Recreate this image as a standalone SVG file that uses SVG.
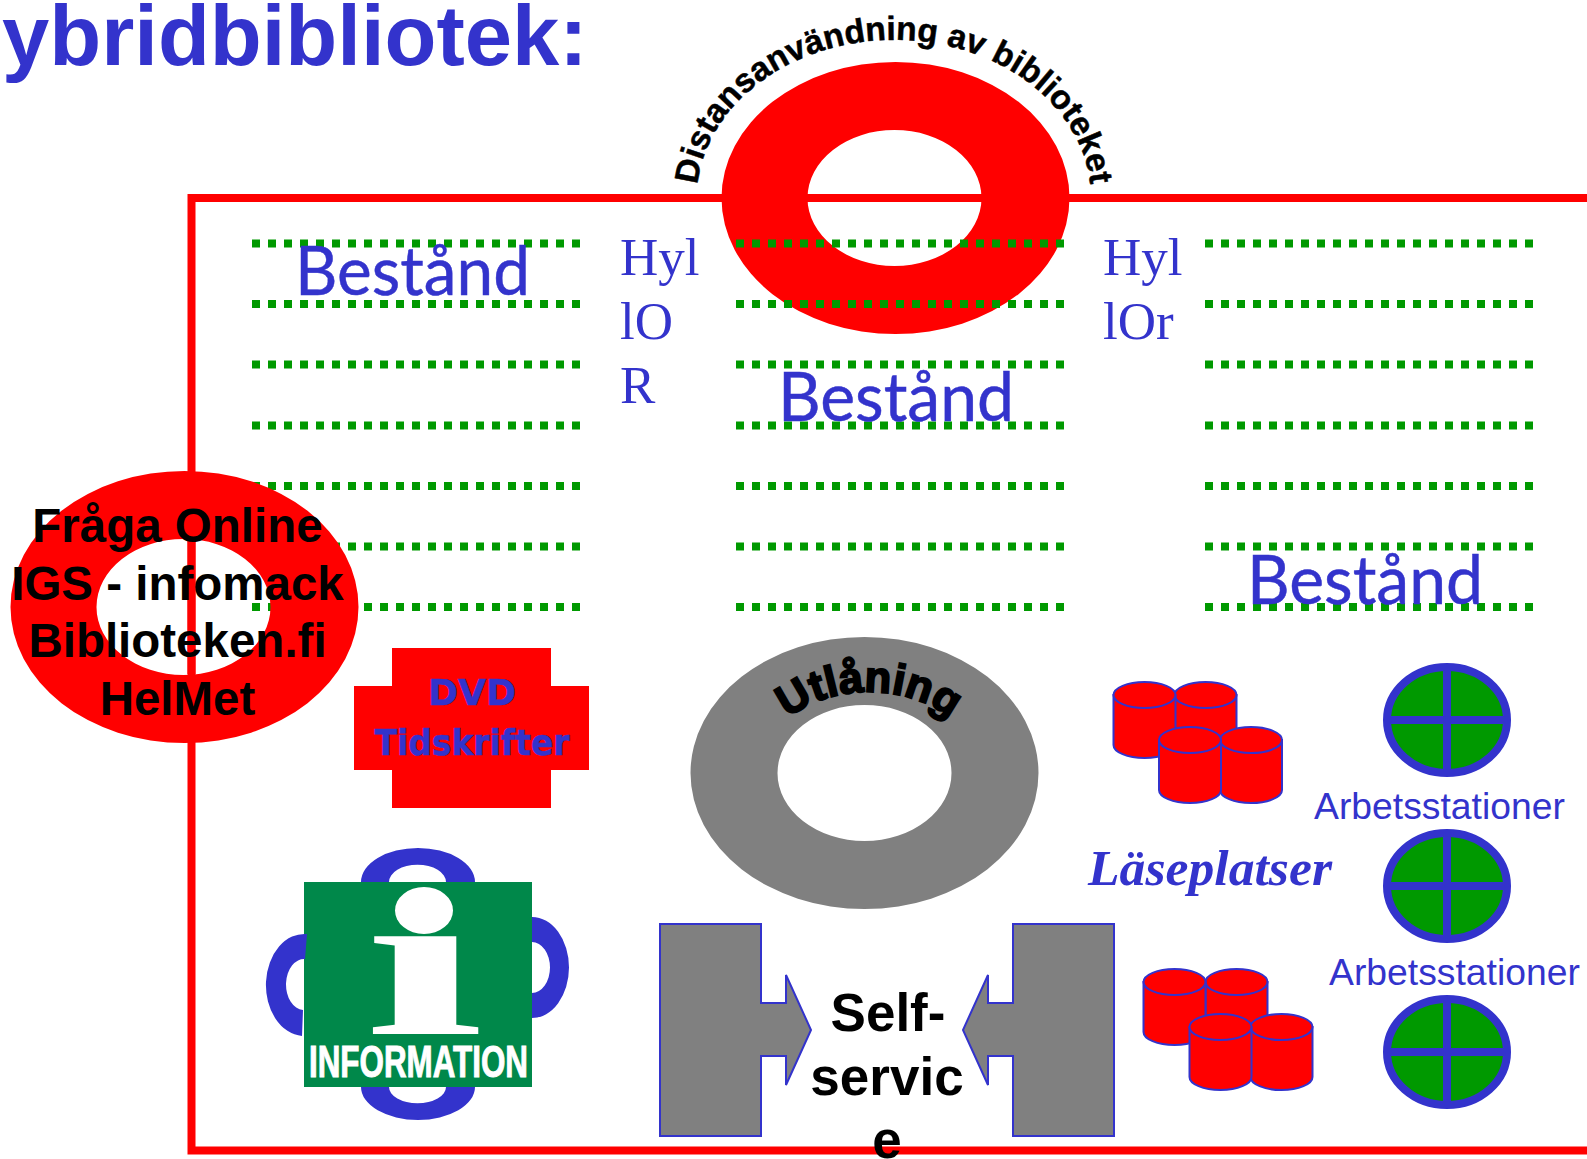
<svg xmlns="http://www.w3.org/2000/svg" xmlns:xlink="http://www.w3.org/1999/xlink" width="1587" height="1159" viewBox="0 0 1587 1159">
<style>
text{font-family:"Liberation Sans",Arial,sans-serif}
.blue{fill:#3333cc}
.black{fill:#000}
.bold{font-weight:bold}
.dots line{stroke:#009900;stroke-width:8;stroke-dasharray:8 8;fill:none}
.ring{fill-rule:evenodd}
.best{font-family:Lato,"Open Sans",sans-serif;font-size:68px;fill:#3333cc;stroke:#3333cc;stroke-width:0.5}
.serif{font-family:"Liberation Serif",serif;font-size:53px;fill:#3333cc}
.info{font-size:47.500px;font-weight:bold;fill:#000;text-anchor:middle}
.self{font-size:53px;font-weight:bold;fill:#000;text-anchor:middle}
.arb{font-size:37.300px;fill:#3333cc}
.cyl path,.cyl ellipse{fill:#ff0000;stroke:#3333cc;stroke-width:2}
.arrow{fill:#808080;stroke:#3333cc;stroke-width:2}
.ws ellipse{fill:#009900;stroke:#3333cc;stroke-width:8}
.ws path{fill:none;stroke:#3333cc;stroke-width:8}
</style>
<defs>
<g id="c" class="cyl"><path d="M0,13V63A31,13 0 0 0 62,63V13Z"/><ellipse cx="31" cy="13" rx="31" ry="13"/></g>
<g id="w" class="ws"><ellipse cx="0" cy="0" rx="60" ry="53"/><path d="M-60,0H60M0,-53V53"/></g>
<path id="arc1" d="M697,198A197,158 0 0 1 1091,198"/>
<path id="arc2" d="M759,773A110,81 0 0 1 979,773"/>
<clipPath id="stem"><rect x="304" y="936" width="228" height="110"/></clipPath>
</defs>

<g id="title"><text x="2" y="65" class="blue bold" font-size="85">ybridbibliotek:</text></g>

<g id="distans">
<path class="ring" fill="#ff0000" d="M721.500,198a174,136 0 1 0 348,0a174,136 0 1 0 -348,0ZM807.500,198a87,68 0 1 1 174,0a87,68 0 1 1 -174,0Z"/>
<text class="black bold" font-size="33.500" text-anchor="middle" stroke="#000" stroke-width="0.500"><textPath href="#arc1" startOffset="50%">Distansanvändning av biblioteket</textPath></text>
</g>

<g id="frame"><path d="M1587,198H191.500V1150.500H1587" fill="none" stroke="#ff0000" stroke-width="8"/></g>

<g id="shelves" class="dots">
<line x1="252" y1="243.500" x2="580" y2="243.500"/><line x1="252" y1="304" x2="580" y2="304"/><line x1="252" y1="364.500" x2="580" y2="364.500"/><line x1="252" y1="425.500" x2="580" y2="425.500"/><line x1="252" y1="486" x2="580" y2="486"/><line x1="252" y1="546.500" x2="580" y2="546.500"/><line x1="252" y1="607" x2="580" y2="607"/>
<line x1="736" y1="243.500" x2="1064" y2="243.500"/><line x1="736" y1="304" x2="1064" y2="304"/><line x1="736" y1="364.500" x2="1064" y2="364.500"/><line x1="736" y1="425.500" x2="1064" y2="425.500"/><line x1="736" y1="486" x2="1064" y2="486"/><line x1="736" y1="546.500" x2="1064" y2="546.500"/><line x1="736" y1="607" x2="1064" y2="607"/>
<line x1="1205" y1="243.500" x2="1533" y2="243.500"/><line x1="1205" y1="304" x2="1533" y2="304"/><line x1="1205" y1="364.500" x2="1533" y2="364.500"/><line x1="1205" y1="425.500" x2="1533" y2="425.500"/><line x1="1205" y1="486" x2="1533" y2="486"/><line x1="1205" y1="546.500" x2="1533" y2="546.500"/><line x1="1205" y1="607" x2="1533" y2="607"/>
</g>

<g id="bestand-1"><text class="best" x="295" y="295" textLength="235" lengthAdjust="spacingAndGlyphs">Bestånd</text></g>
<g id="bestand-2"><text class="best" x="778" y="421" textLength="236" lengthAdjust="spacingAndGlyphs">Bestånd</text></g>
<g id="bestand-3"><text class="best" x="1247" y="604" textLength="236" lengthAdjust="spacingAndGlyphs">Bestånd</text></g>

<g id="hylla-1"><text class="serif" x="620" y="275">Hyl</text><text class="serif" x="620" y="339">lO</text><text class="serif" x="620" y="403">R</text></g>
<g id="hylla-2"><text class="serif" x="1103" y="275">Hyl</text><text class="serif" x="1103" y="339">lOr</text></g>

<g id="online">
<path class="ring" fill="#ff0000" d="M10.500,607a174,136 0 1 0 348,0a174,136 0 1 0 -348,0ZM96.500,607a87,68 0 1 1 174,0a87,68 0 1 1 -174,0Z"/>
<path d="M191.500,539V674" stroke="#ff0000" stroke-width="8"/>
<text class="info" x="177.500" y="542">Fråga Online</text>
<text class="info" x="177.500" y="600">IGS - infomack</text>
<text class="info" x="177.500" y="657">Biblioteken.fi</text>
<text class="info" x="177.500" y="715">HelMet</text>
</g>

<g id="dvd">
<path fill="#ff0000" d="M392,648H551V686H589V770H551V808H392V770H354V686H392Z"/>
<text x="472" y="705" font-size="36" class="blue bold" text-anchor="middle" style="font-family:'DejaVu Sans',sans-serif" stroke="#3333cc" stroke-width="0.600" textLength="88" lengthAdjust="spacingAndGlyphs">DVD</text>
<text x="472" y="755" font-size="36" class="blue bold" text-anchor="middle" style="font-family:'DejaVu Sans',sans-serif" stroke="#3333cc" stroke-width="0.600" textLength="195" lengthAdjust="spacingAndGlyphs">Tidskrifter</text>
</g>

<g id="utlaning">
<path class="ring" fill="#808080" d="M690.500,773a174,136 0 1 0 348,0a174,136 0 1 0 -348,0ZM777.500,773a87,68 0 1 1 174,0a87,68 0 1 1 -174,0Z"/>
<text class="black bold" font-size="43.500" text-anchor="middle" stroke="#000" stroke-width="2"><textPath href="#arc2" startOffset="50%">Utlåning</textPath></text>
</g>

<g id="information">
<path fill="#3333cc" d="M361,882A57,34 0 0 1 475,882H446A28,17 0 0 0 389,882Z"/>
<path fill="#3333cc" d="M361,1087A57,33 0 0 0 475,1087H446A28,16 0 0 1 389,1087Z"/>
<path fill="#3333cc" d="M532,917A37,50.500 0 0 1 532,1018V993A18,25.500 0 0 0 532,942Z"/>
<rect x="304" y="882" width="228" height="205" fill="#00884a"/>
<path fill="#3333cc" d="M307,934A38.500,51 0 0 0 302,1036L303,1010A18,25.500 0 0 1 305,959Z"/>
<g clip-path="url(#stem)"><text transform="translate(424,1034) scale(2.050,1)" x="0" y="0" font-size="213" fill="#ffffff" text-anchor="middle" style="font-family:'Liberation Serif',serif;font-weight:bold">i</text></g>
<ellipse cx="424" cy="910.500" rx="29" ry="23.500" fill="#ffffff"/>
<text x="309" y="1077" font-size="44" fill="#ffffff" stroke="#ffffff" class="bold" textLength="219" lengthAdjust="spacingAndGlyphs">INFORMATION</text>
</g>

<g id="selfservice">
<path class="arrow" d="M660,924H761V1003H786V975L811,1030L786,1085V1056H761V1136H660Z"/>
<path class="arrow" d="M1114,924H1013V1003H988V975L963,1030L988,1085V1056H1013V1136H1114Z"/>
<text class="self" x="888" y="1031">Self-</text>
<text class="self" x="887" y="1095">servic</text>
<text class="self" x="887" y="1158">e</text>
</g>

<g id="seats-1"><use href="#c" x="1174.500" y="682"/><use href="#c" x="1113.500" y="682"/><use href="#c" x="1220" y="727"/><use href="#c" x="1159" y="727"/></g>
<g id="seats-2"><use href="#c" x="1205.500" y="969"/><use href="#c" x="1143.500" y="969"/><use href="#c" x="1250.500" y="1014"/><use href="#c" x="1189.500" y="1014"/></g>
<g id="lasep"><text x="1088" y="885" font-size="50" textLength="244" lengthAdjust="spacingAndGlyphs" fill="#3333cc" style="font-family:'Liberation Serif',serif;font-weight:bold;font-style:italic">Läseplatser</text></g>

<g id="ws-1"><use href="#w" x="1447" y="720"/></g>
<g id="ws-2"><use href="#w" x="1447" y="886"/></g>
<g id="ws-3"><use href="#w" x="1447" y="1052"/></g>
<g id="arb-1"><text class="arb" x="1314" y="819">Arbetsstationer</text></g>
<g id="arb-2"><text class="arb" x="1329" y="985">Arbetsstationer</text></g>
</svg>
